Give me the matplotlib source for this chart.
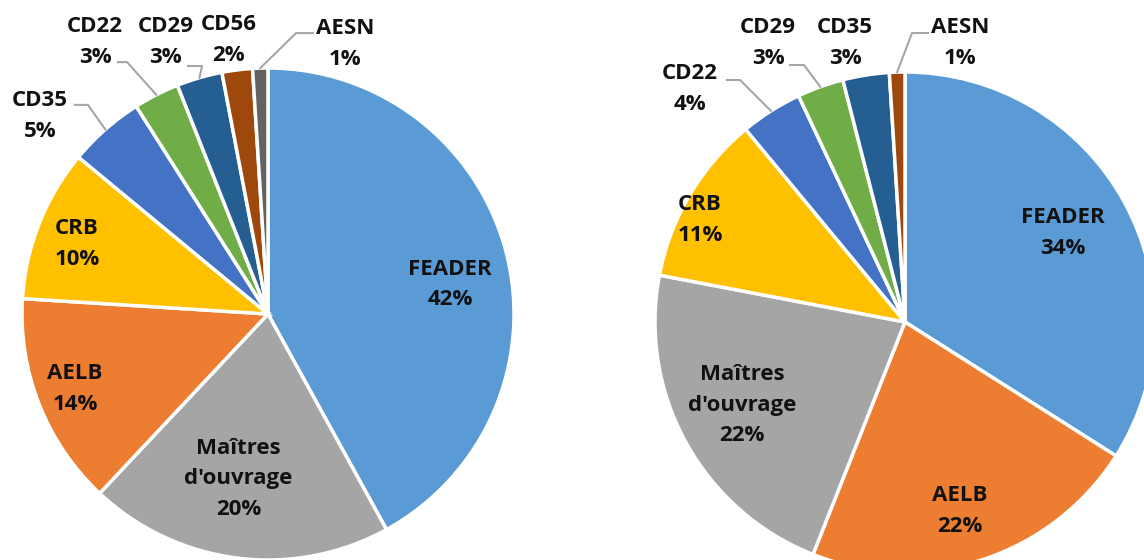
import numpy as np
import matplotlib
matplotlib.use("Agg")
import matplotlib.pyplot as plt

plt.rcParams['font.family'] = ['Open Sans', 'DejaVu Sans']

# ========== 数据 ==========
left_names = ["FEADER", "Maîtres\nd'ouvrage", "AELB", "CRB", "CD35", "CD22", "CD29", "CD56", "AESN"]
left_values = [42, 20, 14, 10, 5, 3, 3, 2, 1]
left_colors = ["#5B9BD5", "#A5A5A5", "#ED7D31", "#FFC000", "#4472C4", "#70AD47", "#255E91", "#9E480E", "#636363"]

right_names = ["FEADER", "AELB", "Maîtres\nd'ouvrage", "CRB", "CD22", "CD29", "CD35", "AESN"]
right_values = [34, 22, 22, 11, 4, 3, 3, 1]
right_colors = ["#5B9BD5", "#ED7D31", "#A5A5A5", "#FFC000", "#4472C4", "#70AD47", "#255E91", "#9E480E"]

# 标签位置 (以半径为单位)
left_label_pos = [(0.74, 0.12), (-0.12, -0.67), (-0.785, -0.305), (-0.776, 0.285),
                  (-0.927, 0.805), (-0.703, 1.106), (-0.415, 1.106), (-0.159, 1.114), (0.313, 1.098)]
right_label_pos = [(0.632, 0.356), (0.22, -0.756), (-0.652, -0.332), (-0.82, 0.408),
                   (-0.86, 0.932), (-0.548, 1.116), (-0.24, 1.116), (0.22, 1.116)]

# 引导线: 索引 -> (起点, 拐点)
left_leaders = {4: ((-0.785, 0.85), (-0.732, 0.85)),
                5: ((-0.61, 1.024), (-0.573, 1.024)),
                6: ((-0.325, 1.008), (-0.268, 1.008)),
                8: ((0.183, 1.142), (0.114, 1.142))}
right_leaders = {4: ((-0.712, 0.968), (-0.66, 0.968)),
                 5: ((-0.46, 1.028), (-0.404, 1.028)),
                 7: ((0.092, 1.156), (0.028, 1.156))}

W, H = 1144, 560
fig = plt.figure(figsize=(W / 100, H / 100), dpi=100)


def draw_pie(cx, cy, r, names, values, colors, label_pos, leaders):
    ax = fig.add_axes([(cx - r) / W, (H - cy - r) / H, 2 * r / W, 2 * r / H])
    wedges, _ = ax.pie(values, colors=colors, startangle=90, counterclock=False,
                       radius=1, wedgeprops=dict(edgecolor="white", linewidth=2.5))
    total = sum(values)
    for i, (name, v) in enumerate(zip(names, values)):
        x, y = label_pos[i]
        ax.text(x, y, f"{name}\n{round(v / total * 100)}%", ha="center", va="center",
                fontsize=16, fontweight="bold", color="#111111", linespacing=1.6,
                clip_on=False)
        if i in leaders:
            w = wedges[i]
            ang = np.deg2rad((w.theta1 + w.theta2) / 2)
            ex, ey = np.cos(ang), np.sin(ang)
            (sx, sy), (kx, ky) = leaders[i]
            ax.plot([sx, kx, ex], [sy, ky, ey], color="#A6A6A6", lw=1.5, clip_on=False)
    ax.set_xlim(-1, 1)
    ax.set_ylim(-1, 1)
    ax.set_aspect("equal")
    ax.axis("off")
    for p in ax.patches:
        p.set_clip_on(False)
    return ax


draw_pie(268, 314, 246, left_names, left_values, left_colors, left_label_pos, left_leaders)
draw_pie(905, 322, 250, right_names, right_values, right_colors, right_label_pos, right_leaders)

plt.savefig("out.png", dpi=100)
plt.close()
